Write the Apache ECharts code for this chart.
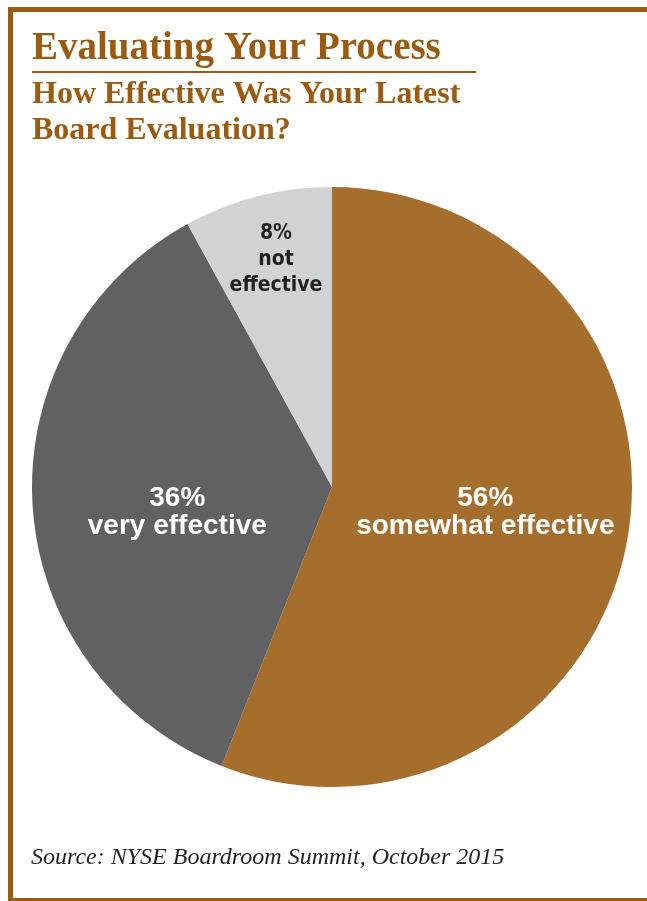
<!DOCTYPE html>
<html>
<head>
<meta charset="utf-8">
<title>Evaluating Your Process</title>
<script src="https://cdn.jsdelivr.net/npm/echarts@6/dist/echarts.min.js"></script>
<style>
  html, body { margin: 0; padding: 0; background: #fff; }
  #chart { width: 647px; height: 901px; }
</style>
</head>
<body>
<div id="chart"></div>
<script>
// data
const categories = ["somewhat effective", "very effective", "not effective"];
const shares = [56, 36, 8];
const sliceColors = ["#a66e2d", "#616163", "#d1d2d4"];
const labelColors = ["#ffffff", "#ffffff", "#231f20"];

const brown = "#9a5a10";

const myChart = echarts.init(document.getElementById("chart"));

// nudge labels away from the default mid-radius spot (8% sits near the rim)
const labelNudge = [[3, -3], [-2, 16], [-18, -79]];

const option = {
  backgroundColor: "#ffffff",
  animation: false,
  title: [
    {
      text: "Evaluating Your Process",
      left: 32,
      top: 29,
      padding: 0,
      textStyle: {
        fontFamily: "Liberation Serif",
        fontWeight: "bold",
        fontSize: 39,
        lineHeight: 39,
        color: brown,
      },
    },
    {
      text: "How Effective Was Your Latest\nBoard Evaluation?",
      left: 32,
      top: 77,
      padding: 0,
      textStyle: {
        fontFamily: "Liberation Serif",
        fontWeight: "bold",
        fontSize: 32,
        lineHeight: 36,
        color: brown,
      },
    },
    {
      text: "Source: NYSE Boardroom Summit, October 2015",
      left: 31,
      top: 846,
      padding: 0,
      textStyle: {
        fontFamily: "Liberation Serif",
        fontStyle: "italic",
        fontWeight: "normal",
        fontSize: 24,
        lineHeight: 24,
        color: "#231f20",
      },
    },
  ],
  graphic: [
    // frame: top and left bars, thin bottom line
    { type: "rect", shape: { x: 8, y: 7, width: 639, height: 5 }, style: { fill: brown } },
    { type: "rect", shape: { x: 8, y: 7, width: 5, height: 894 }, style: { fill: brown } },
    { type: "rect", shape: { x: 8, y: 898, width: 639, height: 3 }, style: { fill: brown } },
    // rule under the headline
    { type: "rect", shape: { x: 32, y: 71, width: 444, height: 2 }, style: { fill: brown } },
  ],
  series: [
    {
      type: "pie",
      center: [332, 487],
      radius: 300,
      startAngle: 90,
      clockwise: true,
      emphasis: { disabled: true },
      label: {
        show: true,
        position: "inside",
        fontFamily: "Liberation Sans",
        fontWeight: "bold",
        fontSize: 28,
        lineHeight: 28,
        formatter: (p) => p.value + "%\n" + p.name,
      },
      labelLine: { show: false },
      labelLayout: function (params) {
        const n = labelNudge[params.dataIndex];
        return { dx: n[0], dy: n[1] };
      },
      data: categories.map((name, i) => {
        const item = {
          name: name,
          value: shares[i],
          itemStyle: { color: sliceColors[i] },
          label: { color: labelColors[i] },
        };
        if (name === "not effective") {
          // condensed face, one word per line
          item.label = {
            color: labelColors[i],
            fontFamily: "DejaVu Sans Condensed",
            fontSize: 21,
            lineHeight: 26,
            formatter: (p) => p.value + "%\n" + p.name.split(" ").join("\n"),
          };
        }
        return item;
      }),
    },
  ],
};

myChart.setOption(option);
</script>
</body>
</html>
